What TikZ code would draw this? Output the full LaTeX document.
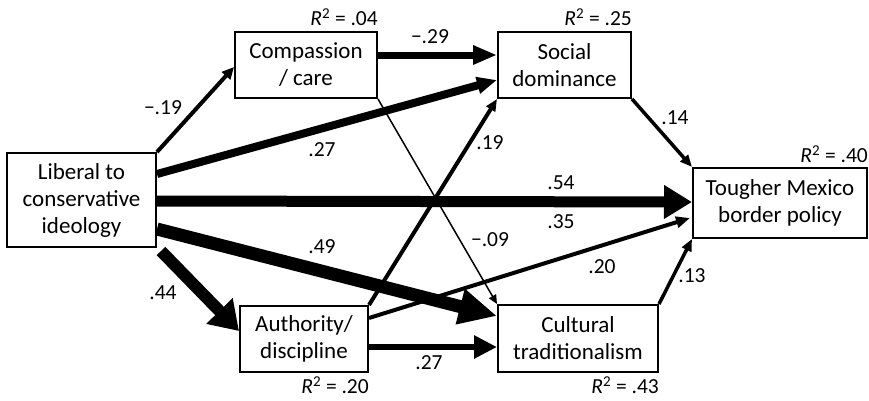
\documentclass[tikz,border=0pt]{standalone}
\usepackage{fontspec}
\setmainfont{Carlito}
\usetikzlibrary{arrows.meta}
\tikzset{
  box/.style={draw, line width=2pt, inner sep=0pt, align=center,
    font=\fontsize{23}{27}\selectfont},
  lbl/.style={inner sep=0pt, font=\fontsize{21.5}{24}\selectfont},
  rsq/.style={inner sep=0pt, font=\fontsize{21.5}{24}\selectfont},
  pth/.style n args={3}{line width=#1, -{Triangle[length=#2,width=#3]}},
}
\begin{document}
\begin{tikzpicture}[x=1pt,y=-1pt]
\useasboundingbox (0,0) rectangle (869,400);
% boxes
\node[box, minimum width=149pt, minimum height=94pt] (lib) at (81.5,200) {Liberal to\\conservative\\ideology};
\node[box, minimum width=142pt, minimum height=66pt] (comp) at (306,65) {Compassion\\/ care};
\node[box, minimum width=133pt, minimum height=66pt] (soc) at (564.5,65) {Social\\dominance};
\node[box, minimum width=174pt, minimum height=70pt] (tou) at (780,203) {Tougher Mexico\\border policy};
\node[box, minimum width=128pt, minimum height=66pt] (auth) at (304,339) {Authority/\\discipline};
\node[box, minimum width=160pt, minimum height=67pt] (cult) at (578,338.5) {Cultural\\traditionalism};
% R squared
\node[rsq, anchor=east] (r1) at (comp.east |- 0,17) {\textit{R}\textsuperscript{2} = .04};
\node[rsq, anchor=east] (r2) at (soc.east |- 0,17) {\textit{R}\textsuperscript{2} = .25};
\node[rsq, anchor=east] (r3) at (tou.east |- 0,154) {\textit{R}\textsuperscript{2} = .40};
\node[rsq, anchor=east] (r4) at (auth.east |- 0,385) {\textit{R}\textsuperscript{2} = .20};
\node[rsq, anchor=east] (r5) at (cult.east |- 0,385) {\textit{R}\textsuperscript{2} = .43};
% connection points
\coordinate (libA) at (lib.north east);
\coordinate (libB) at (lib.east |- 0,174);
\coordinate (libC) at (lib.east |- 0,201);
\coordinate (libD) at (lib.east |- 0,229);
\coordinate (libE) at ([xshift=4pt,yshift=-3pt]lib.south east);
\coordinate (compIn) at (comp.west |- 0,67);
\coordinate (compOut) at (comp.east |- 0,55);
\coordinate (socA) at (soc.west |- 0,55);
\coordinate (socB) at (soc.west |- 0,80);
\coordinate (touA) at (tou.west |- 0,202);
\coordinate (touB) at ([xshift=-2pt]tou.west |- 0,218);
\coordinate (cultA) at (cult.west |- 0,316);
\coordinate (cultB) at (cult.west |- 0,347);
\coordinate (authIn) at (auth.west |- 0,331);
\coordinate (authA) at (auth.east |- 0,318);
\coordinate (authB) at (auth.east |- 0,347);
% paths
\draw[pth={1.5pt}{9pt}{8pt}] (comp.south east) -- (cult.north west);
\draw[pth={4pt}{12pt}{11pt}] (libA) -- (compIn);
\draw[pth={7pt}{24pt}{18pt}] (compOut) -- (socA);
\draw[pth={8pt}{20pt}{16pt}] (libB) -- (socB);
\draw[pth={11pt}{28pt}{32pt}] (libC) -- (touA);
\draw[pth={13pt}{38pt}{34pt}] (libD) -- (cultA);
\draw[pth={12pt}{28pt}{35pt}] (libE) -- (authIn);
\draw[pth={4pt}{12pt}{10pt}] (auth.north east) -- (soc.south west);
\draw[pth={4pt}{14pt}{11pt}] (authA) -- (touB);
\draw[pth={6pt}{23pt}{22pt}] (authB) -- (cultB);
\draw[pth={3.5pt}{12pt}{10pt}] (soc.south east) -- (tou.north west);
\draw[pth={3.5pt}{12pt}{10pt}] (cult.north east) -- (tou.south west);
% labels
\node[lbl] (l1) at (163,108) {−.19};
\node[lbl] (l2) at (430,37) {−.29};
\node[lbl] (l3) at (322,150) {.27};
\node[lbl] (l4) at (561,183) {.54};
\node[lbl] (l5) at (561,222) {.35};
\node[lbl] (l6) at (322,247) {.49};
\node[lbl] (l7) at (163,293) {.44};
\node[lbl] (l8) at (490,143) {.19};
\node[lbl] (l9) at (490,240) {−.09};
\node[lbl] (l10) at (602,267) {.20};
\node[lbl] (l11) at (692,276) {.13};
\node[lbl] (l12) at (675,118) {.14};
\node[lbl] (l13) at (429,363) {.27};
\end{tikzpicture}
\end{document}
